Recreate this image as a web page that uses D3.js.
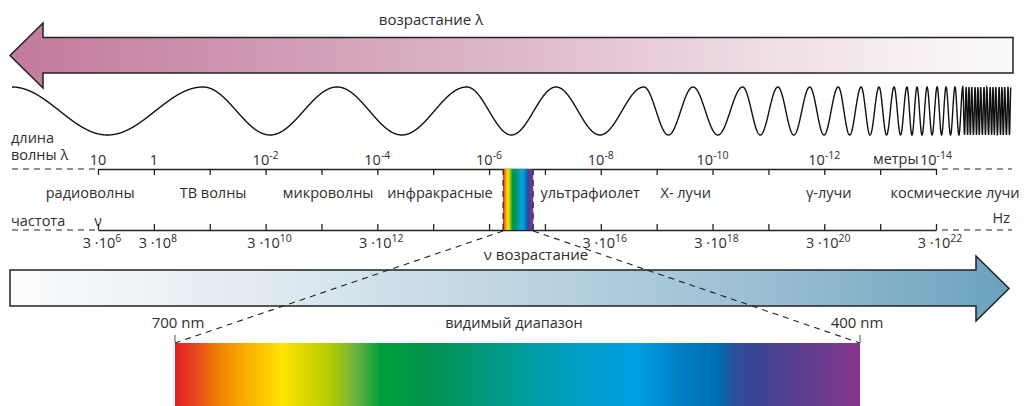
<!DOCTYPE html>
<html><head><meta charset="utf-8">
<script src="https://cdn.jsdelivr.net/npm/d3@7"></script>
<style>
html,body{margin:0;padding:0;background:#fff;}
svg{display:block;}
text{font-family:"Open Sans","Noto Sans",sans-serif;fill:#2e2e2e;}
</style>
</head><body>
<svg id="c" width="1028" height="406"></svg>
<script>
// ---------- data ----------
// wavelength axis: ticks as exponents of 10 (metres)
const lambdaTickExps = [1,0,-1,-2,-3,-4,-5,-6,-7,-8,-9,-10,-11,-12,-13,-14];
const lambdaLabelExps = [1,0,-2,-4,-6,-8,-10,-12,-14];
// frequency labels 3·10^n placed at wavelength exponents
const freqLabelAt = [1,0,-2,-4,-8,-10,-12,-14];
const freqLabelExps = [6,8,10,12,16,18,20,22];
// band names and their centre (in log10 wavelength)
const bandNames = ["радиоволны","ТВ волны","микроволны","инфракрасные","ультрафиолет","X- лучи","γ-лучи","космические лучи"];
const bandCentres = [1.14,-1.06,-3.12,-5.12,-7.81,-9.52,-12.08,-14.34];
// visible band drawn just below 10^-6 m
const visibleFrom = -6.25, visibleTo = -6.79;
// wave crests (log10 wavelength)
const waveCrests = [2.54,-0.88,-3.28,-5.60,-7.20,-8.77,-9.65,-10.54,-11.17,-11.74,-12.25,-12.66,-12.98,-13.25,
  -13.48,-13.66,-13.84,-14.02,-14.18,-14.34,-14.48,-14.54,-14.59,-14.64,-14.70,-14.75,-14.80,-14.86,-14.91,
  -14.97,-15.02,-15.07,-15.13,-15.18,-15.23,-15.29,-15.34];
// visible spectrum colour stops (nm -> colour)
const specNm = [700,689,682,671,653,641,632,621,610,588,557,523,498,479,462,455,444,422,400];
const specCol = ["#e31e24","#e8501c","#ef7d00","#f7a600","#ffe500","#d4d600","#b4cc00","#6db33f","#00a03c","#009250",
  "#009a8a","#00a0c8","#009fe3","#0080c4","#006eb2","#2a4f9c","#3d4494","#643d8e","#87358c"];
const nmRange = [700,400];

// ---------- drawing ----------
const svg = d3.select("#c");
const defs = svg.append("defs");
const ink = "#222";

const x = d3.scaleLinear().domain([1,-14]).range([98,936]);
const yLam = 169, yFreq = 230;

// gradients
function grad(id, stops, x1, x2){
  const g = defs.append("linearGradient").attr("id",id)
    .attr("gradientUnits","userSpaceOnUse").attr("x1",x1).attr("x2",x2).attr("y1",0).attr("y2",0);
  stops.forEach(s=>g.append("stop").attr("offset",s[0]).attr("stop-color",s[1]));
}
grad("gTop", [[0,"#c27a9d"],[0.25,"#cf99b3"],[0.5,"#dfb8ca"],[0.75,"#eedde5"],[0.9,"#f7eff3"],[1,"#fbfbfb"]], 10, 1013);
grad("gBot", [[0,"#fbfcfd"],[0.25,"#e1ebf1"],[0.5,"#bed5e2"],[0.75,"#9bbfd3"],[1,"#6aa2bf"]], 10, 1009);
const nmScale = d3.scaleLinear().domain(nmRange).range([0,1]);
const sg = defs.append("linearGradient").attr("id","gSpec").attr("x1",0).attr("x2",1).attr("y1",0).attr("y2",0);
specNm.forEach((n,i)=>sg.append("stop").attr("offset",nmScale(n)).attr("stop-color",specCol[i]));

// top arrow (pointing left)
svg.append("path")
  .attr("d","M10,55.5 L43,23 L43,37.5 L1013,37.5 L1013,73 L43,73 L43,88 Z")
  .attr("fill","url(#gTop)").attr("stroke",ink).attr("stroke-width",1.5).attr("stroke-linejoin","miter");
svg.append("text").attr("x",431).attr("y",25).attr("text-anchor","middle").attr("font-size",15)
  .text("возрастание λ");

// wave
const crestX = waveCrests.map(c=>x(c));
const phase = d3.scaleLinear().domain(crestX).range(crestX.map((_,i)=>i));
const pts = [];
for(let px=crestX[0]; px<=crestX[crestX.length-1]; px+=0.2){
  pts.push([px, 111 - 24*Math.cos(2*Math.PI*phase(px))]);
}
svg.append("path").attr("d", d3.line()(pts)).attr("fill","none").attr("stroke","#111").attr("stroke-width",1.4);

// wavelength axis
const axL = svg.append("g").attr("transform",`translate(0,${yLam})`)
  .call(d3.axisBottom(x).tickValues(lambdaTickExps).tickSize(6).tickSizeOuter(0).tickFormat(""));
axL.selectAll("path,line").attr("stroke",ink).attr("stroke-width",1.3);
// frequency axis
const axF = svg.append("g").attr("transform",`translate(0,${yFreq})`)
  .call(d3.axisTop(x).tickValues(lambdaTickExps).tickSize(6).tickSizeOuter(0).tickFormat(""));
axF.selectAll("path,line").attr("stroke",ink).attr("stroke-width",1.3);

// dashed extensions
function dash(x1,y1,x2,y2){
  svg.append("line").attr("x1",x1).attr("y1",y1).attr("x2",x2).attr("y2",y2)
    .attr("stroke",ink).attr("stroke-width",1.1).attr("stroke-dasharray","6,5");
}
dash(12,yLam,x(1),yLam); dash(x(-14)+6,yLam,1012,yLam);
dash(12,yFreq,x(1),yFreq); dash(x(-14)+6,yFreq,1012,yFreq);

// wavelength labels
lambdaLabelExps.forEach(e=>{
  const t = svg.append("text").attr("x",x(e)).attr("y",165).attr("text-anchor","middle").attr("font-size",14.5);
  if(e===1) t.text("10");
  else if(e===0) t.text("1");
  else { t.append("tspan").text("10"); t.append("tspan").attr("dy",-6).attr("font-size",10.5).text("-"+Math.abs(e)); }
});
svg.append("text").attr("x",873).attr("y",164).attr("font-size",14.5).text("метры");
svg.append("text").attr("x",11).attr("y",143).attr("font-size",14.5).text("длина");
svg.append("text").attr("x",11).attr("y",160).attr("font-size",14.5).text("волны λ");

// band names
bandNames.forEach((n,i)=>{
  svg.append("text").attr("x",x(bandCentres[i])).attr("y",198).attr("text-anchor","middle").attr("font-size",14.5).text(n);
});

// frequency labels
svg.append("text").attr("x",11).attr("y",226).attr("font-size",14.5).text("частота");
svg.append("text").attr("x",x(1)).attr("y",226).attr("text-anchor","middle").attr("font-size",14).text("ν");
svg.append("text").attr("x",1010).attr("y",223).attr("text-anchor","end").attr("font-size",14.5).text("Hz");
freqLabelAt.forEach((p,i)=>{
  const t = svg.append("text").attr("x",x(p)+4).attr("y",248).attr("text-anchor","middle").attr("font-size",14.5);
  t.append("tspan").text("3 ·10");
  t.append("tspan").attr("dy",-6).attr("font-size",10.5).text(freqLabelExps[i]);
});

// bottom arrow (pointing right)
svg.append("path")
  .attr("d","M10,270 L976,270 L976,256 L1009,288.5 L976,321 L976,306 L10,306 Z")
  .attr("fill","url(#gBot)").attr("stroke",ink).attr("stroke-width",1.5);
svg.append("text").attr("x",536).attr("y",260).attr("text-anchor","middle").attr("font-size",15).text("ν возрастание");

// visible strip in the scale
const sx0 = x(visibleFrom), sx1 = x(visibleTo);
svg.append("rect").attr("x",sx0).attr("y",yLam).attr("width",sx1-sx0).attr("height",yFreq-yLam).attr("fill","url(#gSpec)");
dash(sx0,yLam,sx0,yFreq+1); dash(sx1,yLam,sx1,yFreq+1);

// big visible spectrum
const bx0 = 175, bx1 = 860, by0 = 343, by1 = 406;
svg.append("rect").attr("x",bx0).attr("y",by0).attr("width",bx1-bx0).attr("height",by1-by0).attr("fill","url(#gSpec)");
dash(sx0,yFreq+1,bx0,by0); dash(sx1,yFreq+1,bx1,by0);
[bx0,bx1].forEach(v=>svg.append("line").attr("x1",v).attr("x2",v).attr("y1",335).attr("y2",by0).attr("stroke","#555").attr("stroke-width",1));
svg.append("text").attr("x",178).attr("y",328).attr("text-anchor","middle").attr("font-size",15).text("700 nm");
svg.append("text").attr("x",857).attr("y",328).attr("text-anchor","middle").attr("font-size",15).text("400 nm");
svg.append("text").attr("x",514).attr("y",328).attr("text-anchor","middle").attr("font-size",14.5).text("видимый диапазон");
</script>
</body></html>
